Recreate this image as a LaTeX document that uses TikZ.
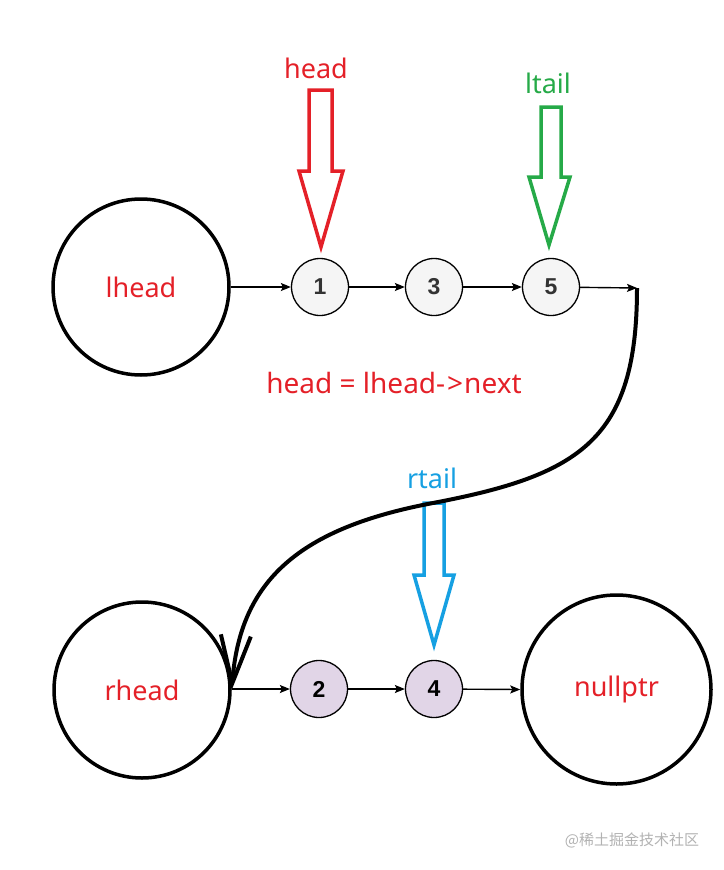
\documentclass[tikz,border=0pt]{standalone}
\usepackage{fontspec}
\setmainfont{Noto Sans}
\newfontfamily\numfont{Liberation Sans}
\newfontfamily\cjkfont{Noto Sans CJK SC}
\usetikzlibrary{arrows.meta}

\definecolor{ptrred}{RGB}{228,32,40}
\definecolor{ptrgreen}{RGB}{38,170,72}
\definecolor{ptrblue}{RGB}{22,160,226}
\definecolor{lnodefill}{RGB}{245,245,245}
\definecolor{rnodefill}{RGB}{225,213,231}
\definecolor{numgray}{RGB}{51,51,51}

\tikzset{
  bigcircle/.style={circle, draw, line width=3.5pt, minimum size=176pt, inner sep=0pt,
    text=ptrred, font=\fontsize{27}{30}\selectfont},
  listnode/.style={circle, draw, line width=1.3pt, minimum size=57pt, inner sep=0pt,
    font=\numfont\bfseries\fontsize{23}{26}\selectfont},
  lnode/.style={listnode, fill=lnodefill, text=numgray},
  rnode/.style={listnode, fill=rnodefill, text=black},
  nextarrow/.style={-{Stealth[length=10pt,width=8pt,inset=2pt]}, line width=1.4pt},
  hollowarrow/.style={line width=3.5pt, line join=miter},
  ptrlabel/.style={font=\fontsize{27}{30}\selectfont}
}

\begin{document}
\begin{tikzpicture}[x=1pt,y=-1pt]
\useasboundingbox (0,0) rectangle (723,870);

% upper list
\node[bigcircle] (lhead) at (141,287) {lhead};
\node[lnode] (n1) at (320,287) {1};
\node[lnode] (n3) at (434,287) {3};
\node[lnode] (n5) at (551,287) {5};
\coordinate (turn) at (637,288);

% lower list
\node[bigcircle] (rhead) at (142,690) {rhead};
\node[rnode] (n2) at (319,689) {2};
\node[rnode] (n4) at (434,689) {4};
\node[bigcircle, minimum size=189pt] (nullptr) at (616.5,689.5) {nullptr};

% next pointers
\draw[nextarrow] (lhead.east) -- (n1.west);
\draw[nextarrow] (n1) -- (n3);
\draw[nextarrow] (n3) -- (n5);
\draw[nextarrow] (n5) -- (turn);
\draw[nextarrow] (rhead.east |- n2) -- (n2);
\draw[nextarrow] (n2) -- (n4);
\draw[nextarrow] (n4) -- (nullptr.west);

% pointer labels
\node[ptrlabel, text=ptrred] (headlbl) at (316,68) {head};
\node[ptrlabel, text=ptrgreen] (ltaillbl) at (548,83) {ltail};
\node[ptrlabel, text=ptrblue] (rtaillbl) at (432,478) {rtail};
\node[ptrlabel, text=ptrred, font=\fontsize{28}{30}\selectfont] (assign) at (394,383)
  {head = lhead-\kern2pt>\kern1pt next};

% hollow pointer arrows
\draw[hollowarrow, ptrred] (309,90) -- (332,90) -- (332,171) -- (343,171) -- (321,247)
  -- (299,171) -- (309,171) -- cycle;
\draw[hollowarrow, ptrgreen] (541,107) -- (561,107) -- (561,177) -- (570,177) -- (549,245)
  -- (529,177) -- (541,177) -- cycle;
\draw[hollowarrow, ptrblue] (424,503) -- (444,503) -- (444,575) -- (454,575) -- (434,645)
  -- (414,575) -- (424,575) -- cycle;

% splice lower list after ltail
\coordinate (cross) at (433,503);
\draw[line width=4pt, -{Straight Barb[length=48pt,width=30pt]}]
  (turn) .. controls (637,440) and (580,475) .. (cross)
  .. controls (300,528) and (240,580) .. (rhead.east);

% watermark
\node[text=black!30, font=\cjkfont\fontsize{15}{18}\selectfont] (mark) at (632,840) {@稀土掘金技术社区};
\end{tikzpicture}
\end{document}
